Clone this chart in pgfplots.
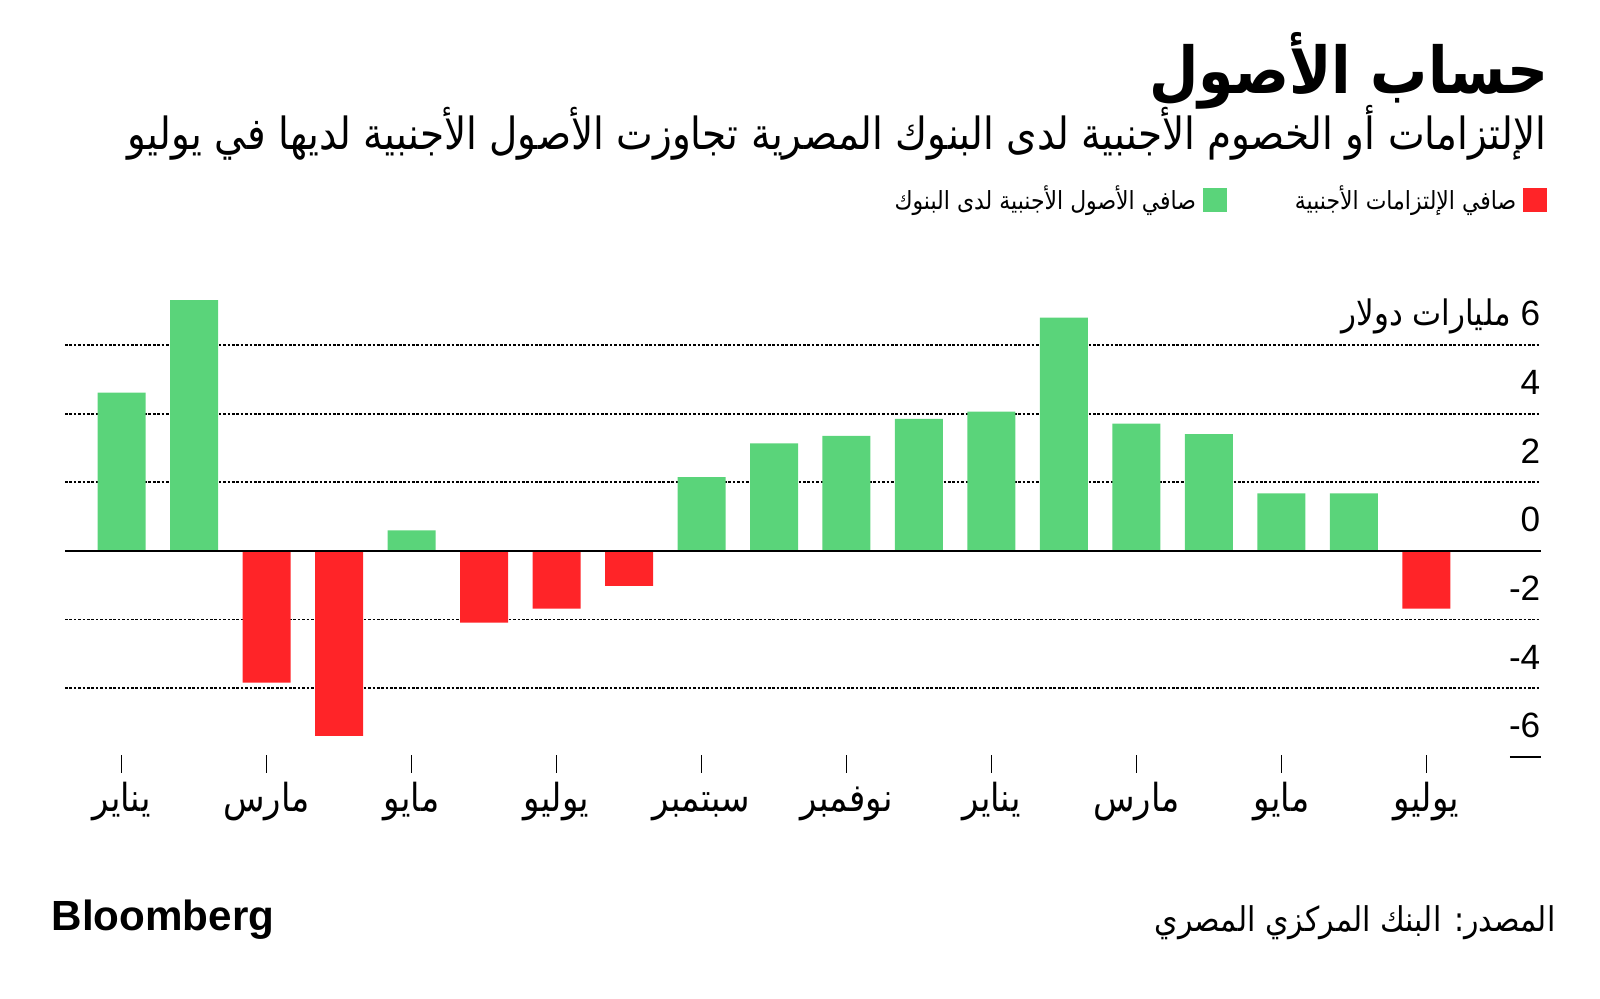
\documentclass[border=0pt]{standalone}
\usepackage{fontspec}
\usepackage{pgfplots}
\pgfplotsset{compat=1.18}
\setmainfont{Liberation Sans}
\newfontfamily\arabicfont[Script=Arabic, FakeStretch=0.88]{DejaVu Sans}
\TeXXeTstate=1
\newcommand\ar[1]{{\arabicfont\beginR #1\endR}}
\definecolor{bbgreen}{RGB}{90,212,122}
\definecolor{bbred}{RGB}{255,36,40}

\begin{document}
\begin{tikzpicture}[x=0.1mm,y=0.1mm]
\path[use as bounding box] (0,0) rectangle (1600,999);
\coordinate (axorigin) at (65,226);

% titles
\node[anchor=east,inner sep=0pt] at (1549,928) {\fontsize{18.4}{20}\selectfont\ar{\bfseries حساب الأصول}};
\node[anchor=east,inner sep=0pt] at (1547,866) {\fontsize{12.6}{14}\selectfont\ar{الإلتزامات أو الخصوم الأجنبية لدى البنوك المصرية تجاوزت الأصول الأجنبية لديها في يوليو}};

\begin{axis}[
  at={(axorigin)}, anchor=south west,
  scale only axis,
  width=147.6mm, height=47.95mm,
  xmin=-0.78, xmax=19.58,
  ymin=-6.47, ymax=7.5,
  axis line style={draw=none},
  ybar, bar width=4.8mm,
  xtick={0,2,...,18},
  xticklabels={\ar{يناير},\ar{مارس},\ar{مايو},\ar{يوليو},\ar{سبتمبر},\ar{نوفمبر},\ar{يناير},\ar{مارس},\ar{مايو},\ar{يوليو}},
  xtick pos=left, tick align=inside,
  major tick length=1.8mm,
  tick style={black, line width=0.5pt},
  xticklabel style={anchor=base, inner sep=0pt, yshift=-3.9mm, font=\fontsize{11}{13}\selectfont},
  ytick={-6,-4,...,6},
  yticklabels={-6,-4,-2,0,2,4,{{\arabicfont\beginR مليارات دولار\endR} 6}},
  ytick pos=right, yticklabel pos=right,
  ytick style={draw=none},
  yticklabel style={anchor=base east, inner sep=0pt, yshift=1.9mm, font=\fontsize{10}{12}\selectfont},
  legend columns=2,
  legend plot pos=right,
  legend image code/.code={\fill[#1] (0mm,-1.2mm) rectangle (2.4mm,1.2mm);},
  legend style={at={(1.0047,1.195)}, anchor=east, draw=none, fill=none, inner sep=0pt,
    font=\fontsize{7.1}{9}\selectfont, cells={anchor=east},
    /tikz/every even column/.append style={column sep=6.1mm}},
]
% gridlines behind the bars
\foreach \v in {-4,-2,2,4,6} {
  \edef\temp{\noexpand\draw[black, line width=0.5pt, dash pattern=on 0.75pt off 0.5pt] (axis cs:-0.78,\v) -- (axis cs:19.58,\v);}
  \temp
}
\draw[black, line width=0.5pt] (axis cs:19.15,-6) -- (axis cs:19.58,-6);

\addplot[fill=bbgreen, draw=none, bar shift=0pt] coordinates {
  (0,4.61) (1,7.31) (4,0.60) (8,2.15) (9,3.13) (10,3.35) (11,3.85)
  (12,4.06) (13,6.80) (14,3.71) (15,3.40) (16,1.68) (17,1.68)
};
\addlegendentry{\ar{صافي الأصول الأجنبية لدى البنوك}}
\addplot[fill=bbred, draw=none, bar shift=0pt] coordinates {
  (2,-3.84) (3,-5.39) (5,-2.09) (6,-1.68) (7,-1.02) (18,-1.68)
};
\addlegendentry{\ar{صافي الإلتزامات الأجنبية}}

\draw[black, line width=0.6pt] (axis cs:-0.78,0) -- (axis cs:19.58,0);
\end{axis}

% footer
\node[anchor=west,inner sep=0pt] at (51,79) {\fontsize{12}{14}\selectfont\bfseries Bloomberg};
\node[anchor=east,inner sep=0pt] at (1556,76) {\fontsize{9.7}{11}\selectfont\ar{المصدر: البنك المركزي المصري}};
\end{tikzpicture}
\end{document}
